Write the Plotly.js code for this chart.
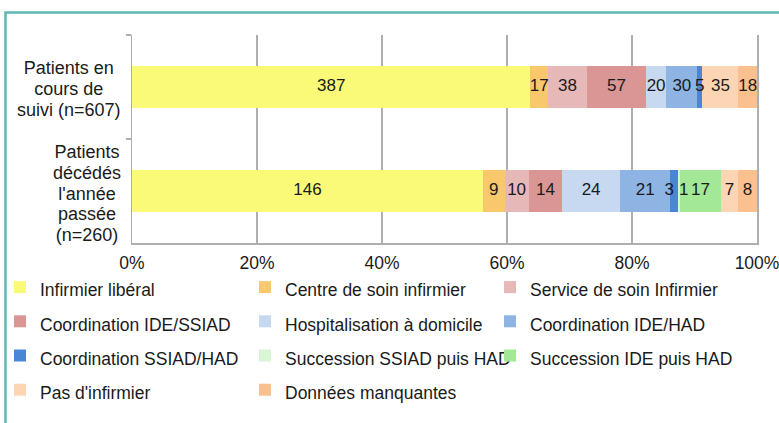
<!DOCTYPE html>
<html>
<head>
<meta charset="utf-8">
<script src="https://cdn.plot.ly/plotly-3.0.1.min.js"></script>
<style>
  html, body { margin: 0; padding: 0; background: #ffffff; }
  #chart { width: 779px; height: 423px; }
</style>
</head>
<body>
<div id="chart"></div>
<script>
// Categories (top to bottom)
const categories = ["Patients en cours de suivi (n=607)", "Patients décédés l'année passée (n=260)"];
const categoryLabelLines = [
  ["Patients en", "cours de", "suivi (n=607)"],
  ["Patients", "décédés", "l'année", "passée", "(n=260)"]
];

// Series names (legend order)
const seriesNames = [
  "Infirmier libéral",
  "Centre de soin infirmier",
  "Service de soin Infirmier",
  "Coordination IDE/SSIAD",
  "Hospitalisation à domicile",
  "Coordination IDE/HAD",
  "Coordination SSIAD/HAD",
  "Succession SSIAD puis HAD",
  "Succession IDE puis HAD",
  "Pas d'infirmier",
  "Données manquantes"
];

// Counts per series: [en cours de suivi, décédés]
const infirmierLiberal   = [387, 146];
const centreSoin         = [17, 9];
const serviceSoin        = [38, 10];
const coordIdeSsiad      = [57, 14];
const hospitalisation    = [20, 24];
const coordIdeHad        = [30, 21];
const coordSsiadHad      = [5, 3];
const successionSsiadHad = [0, 1];
const successionIdeHad   = [0, 17];
const pasInfirmier       = [35, 7];
const donneesManquantes  = [18, 8];

const seriesValues = [
  infirmierLiberal, centreSoin, serviceSoin, coordIdeSsiad, hospitalisation,
  coordIdeHad, coordSsiadHad, successionSsiadHad, successionIdeHad, pasInfirmier, donneesManquantes
];

const seriesColors = [
  "#FAFA78", "#FAC86C", "#E6B8B7", "#D99694", "#C6D9F1",
  "#8EB4E3", "#4A86D6", "#D8F5D6", "#A3E896", "#FCD5B4", "#FAC08F"
];

// Label placement per series and category (style only): where the value label
// sits relative to its segment centre, to keep very narrow neighbours readable.
const labelPlacement = [
  ["middle center", "middle center"],
  ["middle center", "middle center"],
  ["middle center", "middle center"],
  ["middle center", "middle center"],
  ["middle center", "middle center"],
  ["middle center", "middle center"],
  ["middle center", "middle left"],
  ["middle center", "middle right"],
  ["middle center", "middle center"],
  ["middle center", "middle center"],
  ["middle center", "middle center"]
];

const xTickVals = [0, 20, 40, 60, 80, 100];
const xTickText = ["0%", "20%", "40%", "60%", "80%", "100%"];

// Totals per category
const totals = categories.map((c, i) => seriesValues.reduce((s, arr) => s + arr[i], 0));

const FONT = "Liberation Sans, Arial, sans-serif";

const barTraces = seriesNames.map((name, k) => ({
  type: "bar",
  orientation: "h",
  name: "<span style='font-size:17.5px'>" + name + "</span>",
  y: categories,
  x: seriesValues[k].map((v, i) => v / totals[i] * 100),
  marker: { color: seriesColors[k], line: { width: 0 } },
  hoverinfo: "skip"
}));

// Value labels drawn on top of all bars (as in the original chart)
const lblX = [], lblY = [], lblText = [], lblPos = [];
categories.forEach((c, i) => {
  let cum = 0;
  seriesValues.forEach((arr, k) => {
    const pct = arr[i] / totals[i] * 100;
    if (arr[i] > 0) {
      lblX.push(cum + pct / 2);
      lblY.push(c);
      lblText.push(String(arr[i]));
      lblPos.push(labelPlacement[k][i]);
    }
    cum += pct;
  });
});

const labelTrace = {
  type: "scatter",
  mode: "text",
  x: lblX,
  y: lblY,
  text: lblText,
  textposition: lblPos,
  textfont: { family: FONT, size: 17, color: "#1a1a1a" },
  showlegend: false,
  hoverinfo: "skip",
  cliponaxis: false
};

// Plot area in pixels: left 132, right 757, top 35, bottom 243
const W = 779, H = 423;
const L = 132, R = 757, T = 35, B = 243;
const pw = R - L, ph = B - T;
const px2x = p => (p - L) / pw;
const px2y = p => (B - p) / ph;

const labelShift = [-2, -2];
const annotations = categories.map((c, i) => ({
  xref: "paper", yref: "y",
  x: px2x(123), y: c,
  xanchor: "right", yanchor: "middle",
  align: "center",
  yshift: labelShift[i],
  text: categoryLabelLines[i].map(s => "<span style='font-size:18px'>" + s + "</span>").join("<br>"),
  showarrow: false,
  font: { family: FONT, size: 16, color: "#1a1a1a" }
}));

const layout = {
  width: W, height: H,
  margin: { l: L, r: W - R, t: T, b: H - B, pad: 0, autoexpand: false },
  paper_bgcolor: "#ffffff",
  plot_bgcolor: "#ffffff",
  barmode: "stack",
  bargap: 0.6,
  showlegend: true,
  font: { family: FONT, size: 17, color: "#1a1a1a" },
  xaxis: {
    range: [0, 100],
    tickvals: xTickVals,
    ticktext: xTickText,
    showgrid: true,
    gridcolor: "#AEAEAE",
    gridwidth: 1.5,
    zeroline: false,
    showline: true,
    linecolor: "#AEAEAE",
    linewidth: 1.5,
    ticks: "outside",
    ticklen: 3,
    tickcolor: "rgba(0,0,0,0)",
    ticklabeloverflow: "allow",
    tickfont: { family: FONT, size: 17.5, color: "#1a1a1a" },
    fixedrange: true
  },
  yaxis: {
    type: "category",
    categoryorder: "array",
    categoryarray: categories,
    autorange: "reversed",
    showticklabels: false,
    showgrid: false,
    zeroline: false,
    showline: true,
    mirror: true,
    linecolor: "#AEAEAE",
    linewidth: 1.5,
    ticks: "outside",
    tickson: "boundaries",
    ticklen: 5,
    tickcolor: "#AEAEAE",
    tickwidth: 1.5,
    fixedrange: true
  },
  legend: {
    orientation: "h",
    x: px2x(0), xanchor: "left",
    y: px2y(265), yanchor: "top",
    traceorder: "normal",
    entrywidth: 200,
    entrywidthmode: "pixels",
    itemclick: false,
    itemdoubleclick: false,
    font: { family: FONT, size: 24, color: "#1a1a1a" },
    bgcolor: "rgba(0,0,0,0)",
    borderwidth: 0
  },
  annotations: annotations,
  shapes: [
    {
      type: "rect", xref: "paper", yref: "paper",
      x0: px2x(5.5), x1: px2x(830),
      y0: px2y(470), y1: px2y(12.5),
      line: { color: "#5BB8B4", width: 2.5 },
      fillcolor: "rgba(0,0,0,0)",
      layer: "below"
    }
  ]
};

Plotly.newPlot("chart", barTraces.concat([labelTrace]), layout, { displayModeBar: false, staticPlot: true });
</script>
</body>
</html>
